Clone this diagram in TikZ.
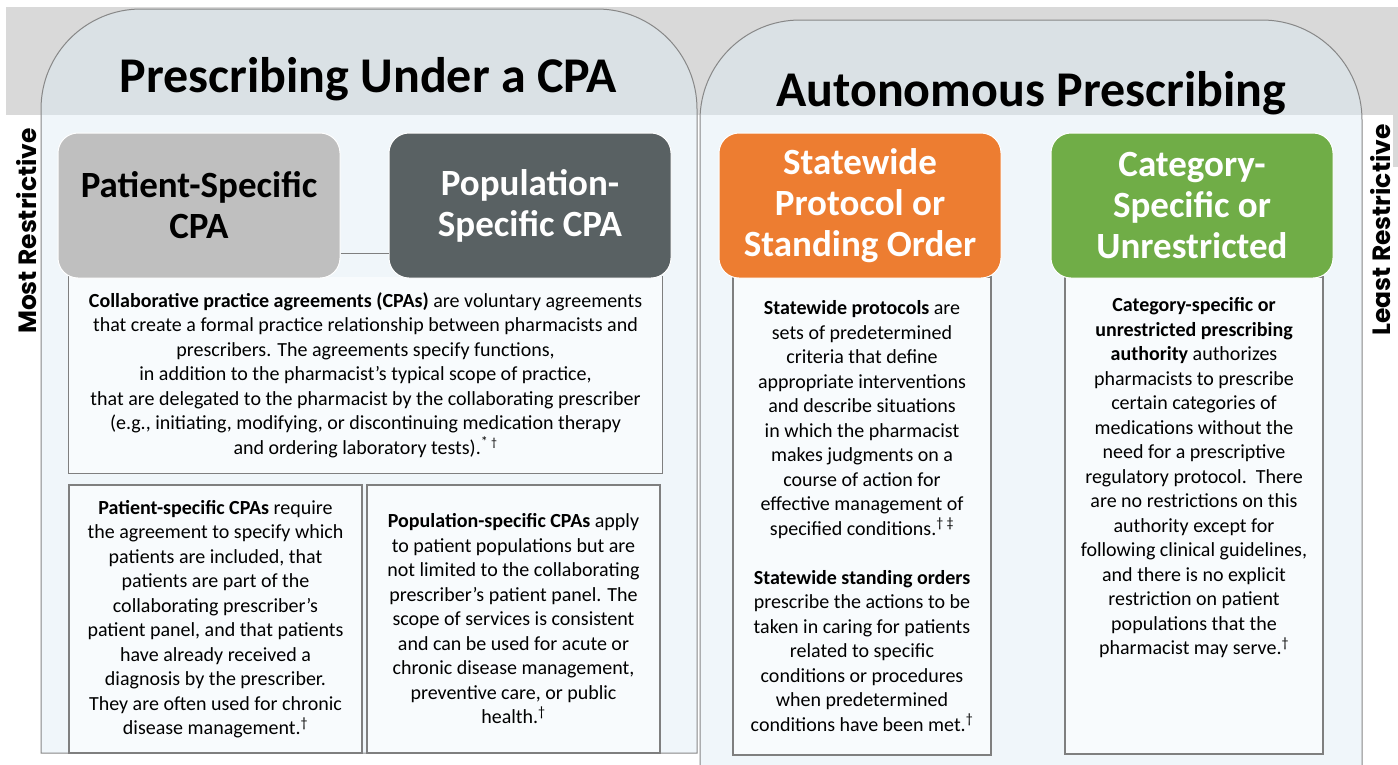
\documentclass[tikz,border=0pt]{standalone}
\usepackage{fontspec}
\setmainfont{Carlito}
\newfontfamily\sidefont{Poppins}
\definecolor{bandgray}{RGB}{217,217,217}
\definecolor{tinthigh}{RGB}{218,225,229}
\definecolor{tintlow}{RGB}{240,246,250}
\definecolor{frame}{RGB}{135,135,135}
\definecolor{descfill}{RGB}{248,251,253}
\definecolor{descline}{RGB}{127,127,127}
\definecolor{patgray}{RGB}{191,191,191}
\definecolor{popslate}{RGB}{89,97,99}
\definecolor{stateorange}{RGB}{237,125,49}
\definecolor{catgreen}{RGB}{112,173,71}
% outlines of the two rounded containers
\newcommand\cpacontainerpath{(41,753) -- (41,109) arc[start angle=180, end angle=270, radius=100]
  -- (597,9) arc[start angle=270, end angle=360, radius=100] -- (697,753) -- cycle}
\newcommand\autocontainerpath{(700,800) -- (700,120) arc[start angle=180, end angle=270, radius=100]
  -- (1262,20) arc[start angle=270, end angle=360, radius=100] -- (1362,800) -- cycle}
\begin{document}
\begin{tikzpicture}[x=1pt,y=-1pt,
  container/.style={draw=frame, line width=1pt},
  header/.style={rounded corners=20pt, draw=white, line width=1pt,
    minimum width=282pt, minimum height=145pt, inner sep=0pt, align=center,
    font=\fontsize{37}{41}\selectfont\bfseries},
  descbox/.style={fill=descfill, draw=descline, line width=1.3pt, inner sep=0pt,
    align=center, font=\fontsize{20}{24.5}\selectfont},
  desctext/.style={inner sep=0pt, align=center, font=\fontsize{20}{24.5}\selectfont},
  boxline/.style={draw=descline, line width=1.3pt},
  title/.style={anchor=base, inner sep=0pt, font=\fontsize{50}{60}\selectfont\bfseries},
  side/.style={rotate=90, inner sep=0pt, font=\sidefont\bfseries\fontsize{25}{30}\selectfont},
  link/.style={draw=descline, line width=1pt}]
\useasboundingbox (0,0) rectangle (1398,764);
\fill[white] (0,0) rectangle (1398,764);

% grey band behind the two headings
\fill[bandgray] (6,7) rectangle (1398,115);
\fill[bandgray] (1393,115) rectangle (1398,167);

% container fills: darker tint where they cross the band
\begin{scope}
  \clip \cpacontainerpath;
  \fill[tintlow] (0,0) rectangle (1398,800);
  \fill[tinthigh] (0,0) rectangle (1398,115);
\end{scope}
\begin{scope}
  \clip \autocontainerpath;
  \fill[tintlow] (0,0) rectangle (1398,800);
  \fill[tinthigh] (0,0) rectangle (1398,115);
\end{scope}
\path[container] \cpacontainerpath;
\path[container] (700,800) -- (700,120) arc[start angle=180, end angle=270, radius=100]
  -- (1262,20) arc[start angle=270, end angle=360, radius=100] -- (1362,800);

% headings
\node[title] (cpatitle) at (368.5,92) {Prescribing Under a CPA};
\node[title] (autotitle) at (1031,106) {Autonomous Prescribing};

% side labels
\node[side] (most) at (27,231) {Most Restrictive};
\node[side] (least) at (1381,230) {Least Restrictive};

% description boxes
\node[descbox, draw=none, minimum width=593pt, minimum height=196pt] (cpadesc) at (365.5,375)
  {\textbf{Collaborative practice agreements (CPAs)} are voluntary agreements\\
   that create a formal practice relationship between pharmacists and\\
   prescribers. The agreements specify functions,\\
   in addition to the pharmacist’s typical scope of practice,\\
   that are delegated to the pharmacist by the collaborating prescriber\\
   (e.g., initiating, modifying, or discontinuing medication therapy\\
   and ordering laboratory tests).\textsuperscript{* \large†}};
\path[boxline] (cpadesc.north west) -- (cpadesc.south west) -- (cpadesc.south east) -- (cpadesc.north east);

\node[descbox, minimum width=293pt, minimum height=268pt] (patdesc) at (215.5,619)
  {\textbf{Patient-specific CPAs} require\\
   the agreement to specify which\\
   patients are included, that\\
   patients are part of the\\
   collaborating prescriber’s\\
   patient panel, and that patients\\
   have already received a\\
   diagnosis by the prescriber.\\
   They are often used for chronic\\
   disease management.\textsuperscript{†}};

\node[descbox, minimum width=293pt, minimum height=268pt] (popdesc) at (513.5,619)
  {\textbf{Population-specific CPAs} apply\\
   to patient populations but are\\
   not limited to the collaborating\\
   prescriber’s patient panel. The\\
   scope of services is consistent\\
   and can be used for acute or\\
   chronic disease management,\\
   preventive care, or public\\
   health.\textsuperscript{†}};

\node[descbox, minimum width=258pt, minimum height=478pt] (statedesc) at (862,516)
  {\textbf{Statewide protocols} are\\
   sets of predetermined\\
   criteria that define\\
   appropriate interventions\\
   and describe situations\\
   in which the pharmacist\\
   makes judgments on a\\
   course of action for\\
   effective management of\\
   specified conditions.\textsuperscript{† ‡}\\[24.5pt]
   \textbf{Statewide standing orders}\\
   prescribe the actions to be\\
   taken in caring for patients\\
   related to specific\\
   conditions or procedures\\
   when predetermined\\
   conditions have been met.\textsuperscript{†}};

\node[descbox, minimum width=258pt, minimum height=477pt] (catdesc) at (1194,515.5) {};
\node[desctext, anchor=north] (cattext) at ([yshift=-21pt]catdesc.north)
  {\textbf{Category-specific or}\\
   \textbf{unrestricted prescribing}\\
   \textbf{authority} authorizes\\
   pharmacists to prescribe\\
   certain categories of\\
   medications without the\\
   need for a prescriptive\\
   regulatory protocol.\ \ There\\
   are no restrictions on this\\
   authority except for\\
   following clinical guidelines,\\
   and there is no explicit\\
   restriction on patient\\
   populations that the\\
   pharmacist may serve.\textsuperscript{†}};

% coloured category headers
\node[header, fill=patgray, text=black] (pat) at (199,205.5) {Patient-Specific\\CPA};
\node[header, fill=popslate, text=white] (pop) at (530,205.5) {Population-\\Specific CPA};
\node[header, fill=stateorange, text=white] (state) at (860,205.5) {Statewide\\Protocol or\\Standing Order};
\node[header, fill=catgreen, text=white] (cat) at (1192,205.5) {Category-\\Specific or\\Unrestricted};

% link between the two CPA headers
\path[link] ([yshift=-47.5pt]pat.east) -- ([yshift=-47.5pt]pop.west);
\end{tikzpicture}
\end{document}
